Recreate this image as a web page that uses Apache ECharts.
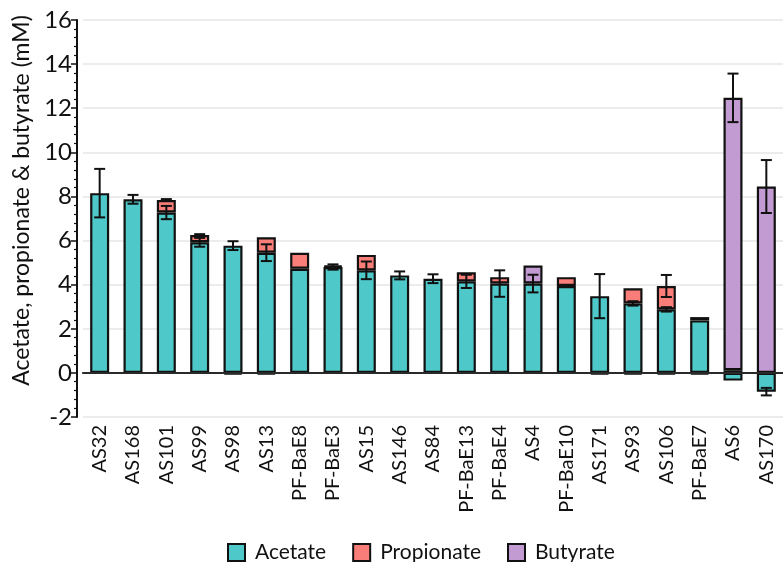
<!DOCTYPE html>
<html>
<head>
<meta charset="utf-8">
<script src="https://cdn.jsdelivr.net/npm/echarts@6/dist/echarts.min.js"></script>
<style>
  html, body { margin: 0; padding: 0; background: #fff; }
  #chart { width: 783px; height: 562px; }
</style>
</head>
<body>
<div id="chart"></div>
<script>
// strains, in plotted order
var categories = ['AS32', 'AS168', 'AS101', 'AS99', 'AS98', 'AS13', 'PF-BaE8', 'PF-BaE3', 'AS15', 'AS146', 'AS84',
  'PF-BaE13', 'PF-BaE4', 'AS4', 'PF-BaE10', 'AS171', 'AS93', 'AS106', 'PF-BaE7', 'AS6', 'AS170']

// mean values (mM), 0 = nothing drawn
var acetate = [8.15, 7.87, 7.27, 5.92, 5.77, 5.45, 4.72, 4.80, 4.65, 4.42, 4.27,
  4.15, 4.05, 4.05, 3.94, 3.48, 3.15, 2.88, 2.38, -0.35, -0.85]
var propionate = [0, 0, 0.57, 0.33, 0, 0.70, 0.73, 0.06, 0.70, 0, 0,
  0.41, 0.29, 0, 0.40, 0, 0.69, 1.06, 0.15, 0.12, 0]
var butyrate = [0, 0, 0, 0, -0.06, -0.06, 0, 0, 0, 0, 0,
  0, 0, 0.82, 0, -0.06, -0.06, -0.06, -0.06, 12.35, 8.45]

// error bars (half length)
var acetateErr = [1.1, 0.2, 0.3, 0.2, 0.2, 0.38, 0, 0.12, 0.4, 0.18, 0.2,
  0.3, 0.6, 0.4, 0, 1.0, 0.1, 0.1, 0, 0, 0.17]
var propionateErr = [0, 0, 0.04, 0.04, 0, 0, 0, 0, 0, 0, 0,
  0, 0, 0, 0, 0, 0, 0.5, 0, 0, 0]
var butyrateErr = [0, 0, 0, 0, 0, 0, 0, 0, 0, 0, 0,
  0, 0, 0, 0, 0, 0, 0, 0, 1.1, 1.2]

var yTicks = { min: -2, max: 16, step: 2 }

var FONT = 'Lato'
var colors = { acetate: '#4ec8c8', propionate: '#f97e79', butyrate: '#c39bd3' }

// stacked tops, same sign stacking like echarts does
var posSum = categories.map(() => 0), negSum = categories.map(() => 0)
function stackTops (vals) {
  return vals.map((v, i) => {
    if (v >= 0) { posSum[i] += v; return posSum[i] }
    negSum[i] += v; return negSum[i]
  })
}
var acetateTop = stackTops(acetate)
var propionateTop = stackTops(propionate)
var butyrateTop = stackTops(butyrate)

function errData (tops, errs) {
  const out = []
  errs.forEach((e, i) => { if (e > 0) out.push([i, tops[i], e]) })
  return out
}
var errPoints = [].concat(
  errData(acetateTop, acetateErr),
  errData(propionateTop, propionateErr),
  errData(butyrateTop, butyrateErr)
)

function barSeries (name, vals) {
  return {
    name: name,
    type: 'bar',
    stack: 'total',
    barWidth: 19,
    data: vals.map(v => v === 0 ? '-' : v),
    itemStyle: { color: colors[name.toLowerCase()], borderColor: '#111', borderWidth: 2.2 }
  }
}

var series = [
  barSeries('Acetate', acetate),
  barSeries('Propionate', propionate),
  barSeries('Butyrate', butyrate),
  {
    type: 'custom',
    name: 'err',
    z: 10,
    data: errPoints,
    encode: { x: 0, y: 1 },
    renderItem: function (params, api) {
      const i = api.value(0), c = api.value(1), e = api.value(2)
      const hi = api.coord([i, c + e]), lo = api.coord([i, c - e])
      const w = 5.5
      const st = { stroke: '#111', lineWidth: 2 }
      return {
        type: 'group',
        children: [
          { type: 'line', shape: { x1: hi[0], y1: hi[1], x2: lo[0], y2: lo[1] }, style: st },
          { type: 'line', shape: { x1: hi[0] - w, y1: hi[1], x2: hi[0] + w, y2: hi[1] }, style: st },
          { type: 'line', shape: { x1: lo[0] - w, y1: lo[1], x2: lo[0] + w, y2: lo[1] }, style: st }
        ]
      }
    }
  }
]
// zero reference line
series[0].markLine = {
  silent: true,
  symbol: ['none', 'none'],
  label: { show: false },
  lineStyle: { color: '#333', width: 1.5, type: 'solid' },
  data: [{ yAxis: 0 }]
}

var option = {
  animation: false,
  backgroundColor: '#fff',
  textStyle: { fontFamily: FONT },
  grid: { left: 83, right: -8, top: 20, bottom: 145 },
  legend: {
    data: ['Acetate', 'Propionate', 'Butyrate'],
    left: 222,
    top: 537,
    icon: 'rect',
    itemWidth: 17,
    itemHeight: 17,
    itemGap: 26,
    textStyle: { fontFamily: FONT, fontSize: 21, color: '#111', padding: [0, 0, 0, 5] }
  },
  xAxis: {
    type: 'category',
    data: categories,
    axisLine: { lineStyle: { color: '#111', width: 2 } },
    axisTick: { alignWithLabel: true, length: 6, lineStyle: { color: '#111', width: 1.5 } },
    axisLabel: { rotate: 90, interval: 0, fontSize: 20, color: '#111', margin: 8, fontFamily: FONT },
    splitLine: { show: false }
  },
  yAxis: {
    type: 'value',
    min: yTicks.min,
    max: yTicks.max,
    interval: yTicks.step,
    offset: 6,
    name: 'Acetate, propionate & butyrate (mM)',
    nameLocation: 'middle',
    nameGap: 39,
    nameTextStyle: { fontSize: 23, color: '#111', fontFamily: FONT, padding: [0, 0, 0, 36] },
    axisLine: { show: true, lineStyle: { color: '#111', width: 2 } },
    axisTick: { show: true, length: 6, lineStyle: { color: '#111', width: 1.5 } },
    minorTick: { show: true, splitNumber: 5, length: 3, lineStyle: { color: '#111', width: 1.2 } },
    axisLabel: { fontSize: 24, color: '#111', margin: 5, fontFamily: FONT },
    splitLine: { show: true, lineStyle: { color: '#e6e6e6', width: 1.5 } }
  },
  series: series
}

var myChart = echarts.init(document.getElementById('chart'))
myChart.setOption(option)
</script>
</body>
</html>
